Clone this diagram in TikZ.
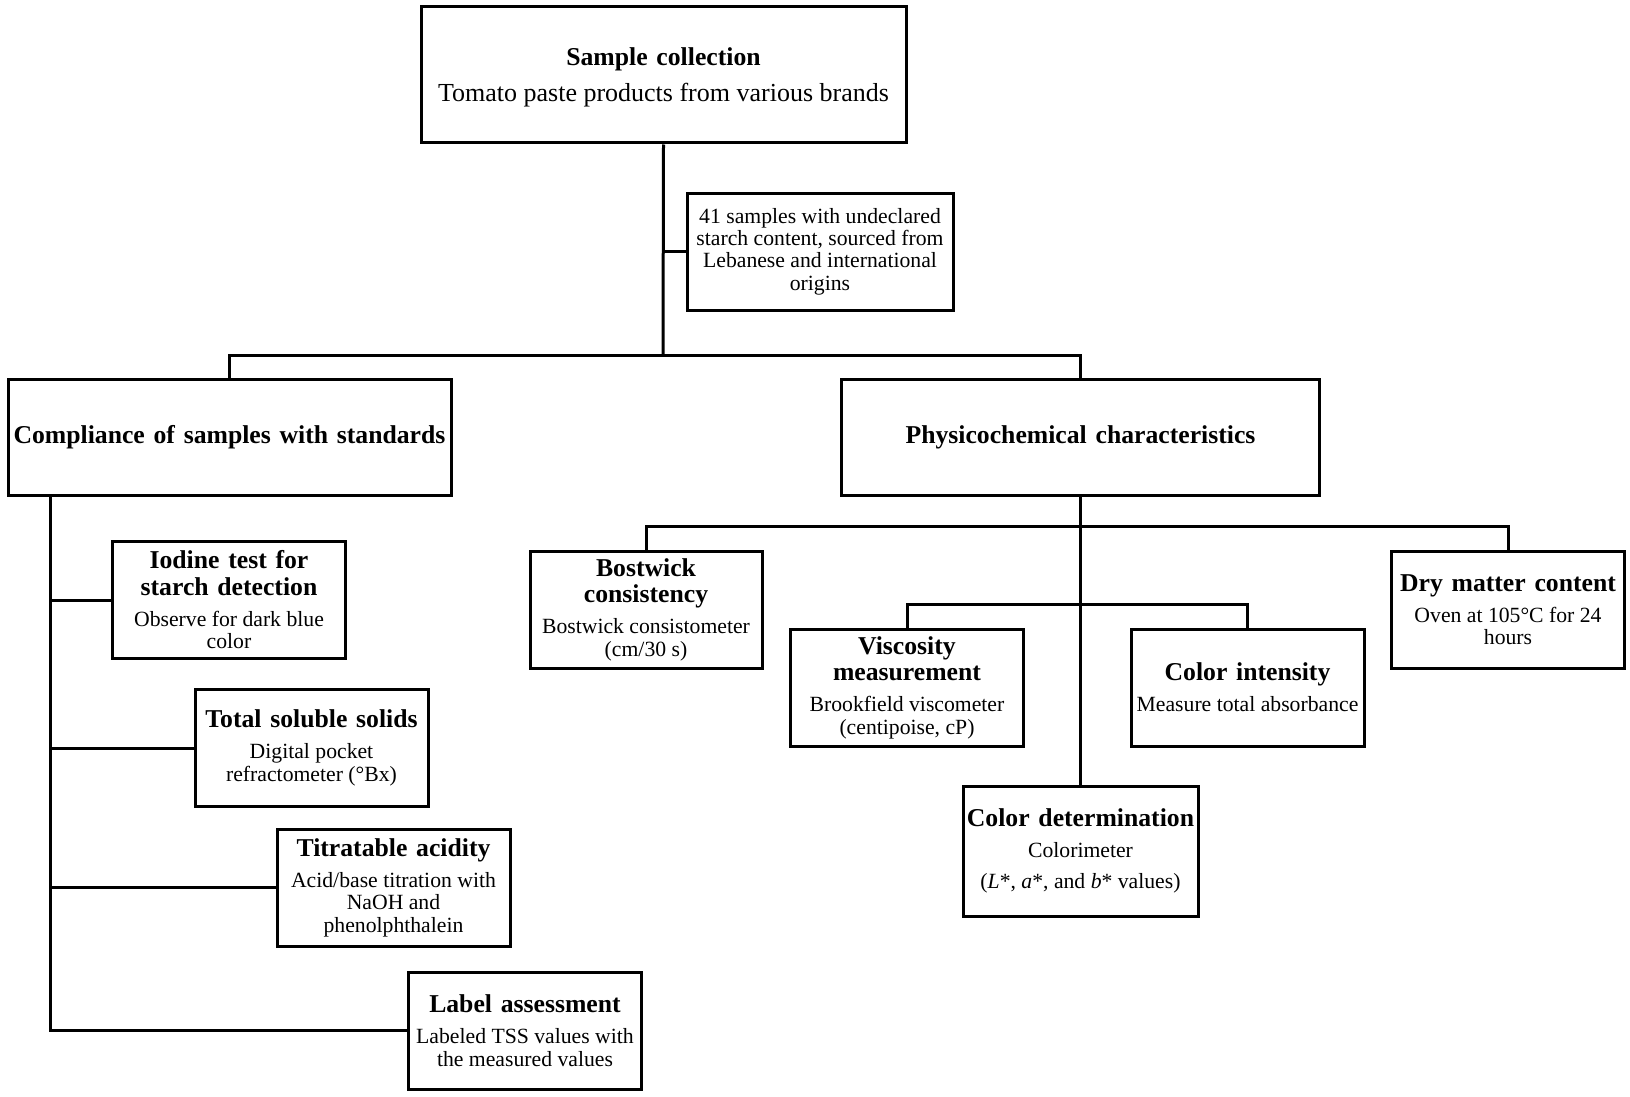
\documentclass[tikz,border=0pt]{standalone}
\usepackage{fontspec}
\setmainfont{Liberation Serif}
\newcommand\TT{\normalfont\fontsize{25.7}{26.5}\selectfont\bfseries\spaceskip=.34em\relax\hyphenpenalty=10000\relax}
\newcommand\BB{\normalfont\fontsize{21.7}{22.4}\selectfont\spaceskip=.25em\relax\hyphenpenalty=10000\relax}
\newcommand\BT{\normalfont\fontsize{25.7}{30}\selectfont\bfseries\spaceskip=.34em\relax\hyphenpenalty=10000\relax}
\newcommand\BTB{\normalfont\fontsize{26}{30}\selectfont\spaceskip=.25em\relax\hyphenpenalty=10000\relax}
\tikzset{
  box/.style={draw, line width=3pt, inner sep=0pt, align=center, fill=white},
  conn/.style={line width=3pt, line join=miter},
}
\begin{document}
\begin{tikzpicture}[x=1pt, y=-1pt]
\useasboundingbox (0,0) rectangle (1630,1097);
% top
\node[box, minimum width=485pt, minimum height=136pt, text width=481pt] (top) at (663.5,75)
  {\BT Sample collection\par\vskip6.5pt\BTB Tomato paste products from various brands\par\kern-5pt};
\node[box, minimum width=266pt, minimum height=117pt, text width=264pt] (note) at (820,251.5)
  {\BB 41 samples with undeclared\\starch content, sourced from\\Lebanese and international\\origins\par};
% level 2
\node[box, minimum width=443pt, minimum height=116pt, text width=443pt] (comp) at (229.5,437)
  {\BT Compliance of samples with standards\par};
\node[box, minimum width=478pt, minimum height=116pt, text width=474pt] (phys) at (1080.5,437)
  {\BT Physicochemical characteristics\par};
% left branch
\node[box, minimum width=233pt, minimum height=117pt, text width=231pt] (iod) at (229,600)
  {\TT Iodine test for\\starch detection\par\vskip8.6pt\BB Observe for dark blue\\color\par};
\node[box, minimum width=233pt, minimum height=117pt, text width=231pt] (tss) at (311.5,748)
  {\TT Total soluble solids\par\vskip8.6pt\BB Digital pocket\\refractometer (°Bx)\par};
\node[box, minimum width=233pt, minimum height=117pt, text width=231pt] (ta) at (393.5,887.5)
  {\TT Titratable acidity\par\vskip8.6pt\BB Acid/base titration with\\NaOH and\\phenolphthalein\par};
\node[box, minimum width=233pt, minimum height=117pt, text width=231pt] (lab) at (525,1030.5)
  {\TT Label assessment\par\vskip8.6pt\BB Labeled TSS values with\\the measured values\par};
% right branch
\node[box, minimum width=232pt, minimum height=117pt, text width=230pt] (bost) at (646,609.5)
  {\TT Bostwick\\consistency\par\vskip8.6pt\BB Bostwick consistometer\\(cm/30 s)\par};
\node[box, minimum width=233pt, minimum height=117pt, text width=231pt] (dry) at (1508,609.5)
  {\TT Dry matter content\par\vskip8.6pt\BB Oven at 105°C for 24\\hours\par};
\node[box, minimum width=233pt, minimum height=117pt, text width=231pt] (visc) at (907,687.5)
  {\TT Viscosity\\measurement\par\vskip8.6pt\BB Brookfield viscometer\\(centipoise, cP)\par};
\node[box, minimum width=233pt, minimum height=117pt, text width=231pt] (cint) at (1247.5,687.5)
  {\TT Color intensity\par\vskip8.6pt\BB Measure total absorbance\par};
\node[box, minimum width=235pt, minimum height=130pt, text width=233pt] (cdet) at (1080.5,851)
  {\TT Color determination\par\vskip8.6pt\BB Colorimeter\par\vskip8.6pt
   (\textit{L}*, \textit{a}*, and \textit{b}* values)\par};
% junctions
\coordinate (j1) at (663,355);
\coordinate (lt) at ([xshift=44pt]comp.south west);
\coordinate (j2) at (1080,526);
\coordinate (j3) at (1080,604);
% connectors
\draw[conn] (top.south) -- (j1);
\draw[conn] (note.west) -- (note.west -| top.south);
\draw[conn] (comp.north) |- (j1) -| (phys.north);
\draw[conn] (lt) |- (lab.west);
\draw[conn] (iod.west) -- (iod.west -| lt);
\draw[conn] (tss.west) -- (tss.west -| lt);
\draw[conn] (ta.west) -- (ta.west -| lt);
\draw[conn] (phys.south) -- (cdet.north);
\draw[conn] (bost.north) |- (j2) -| (dry.north);
\draw[conn] (visc.north) |- (j3) -| (cint.north);
\end{tikzpicture}
\end{document}
